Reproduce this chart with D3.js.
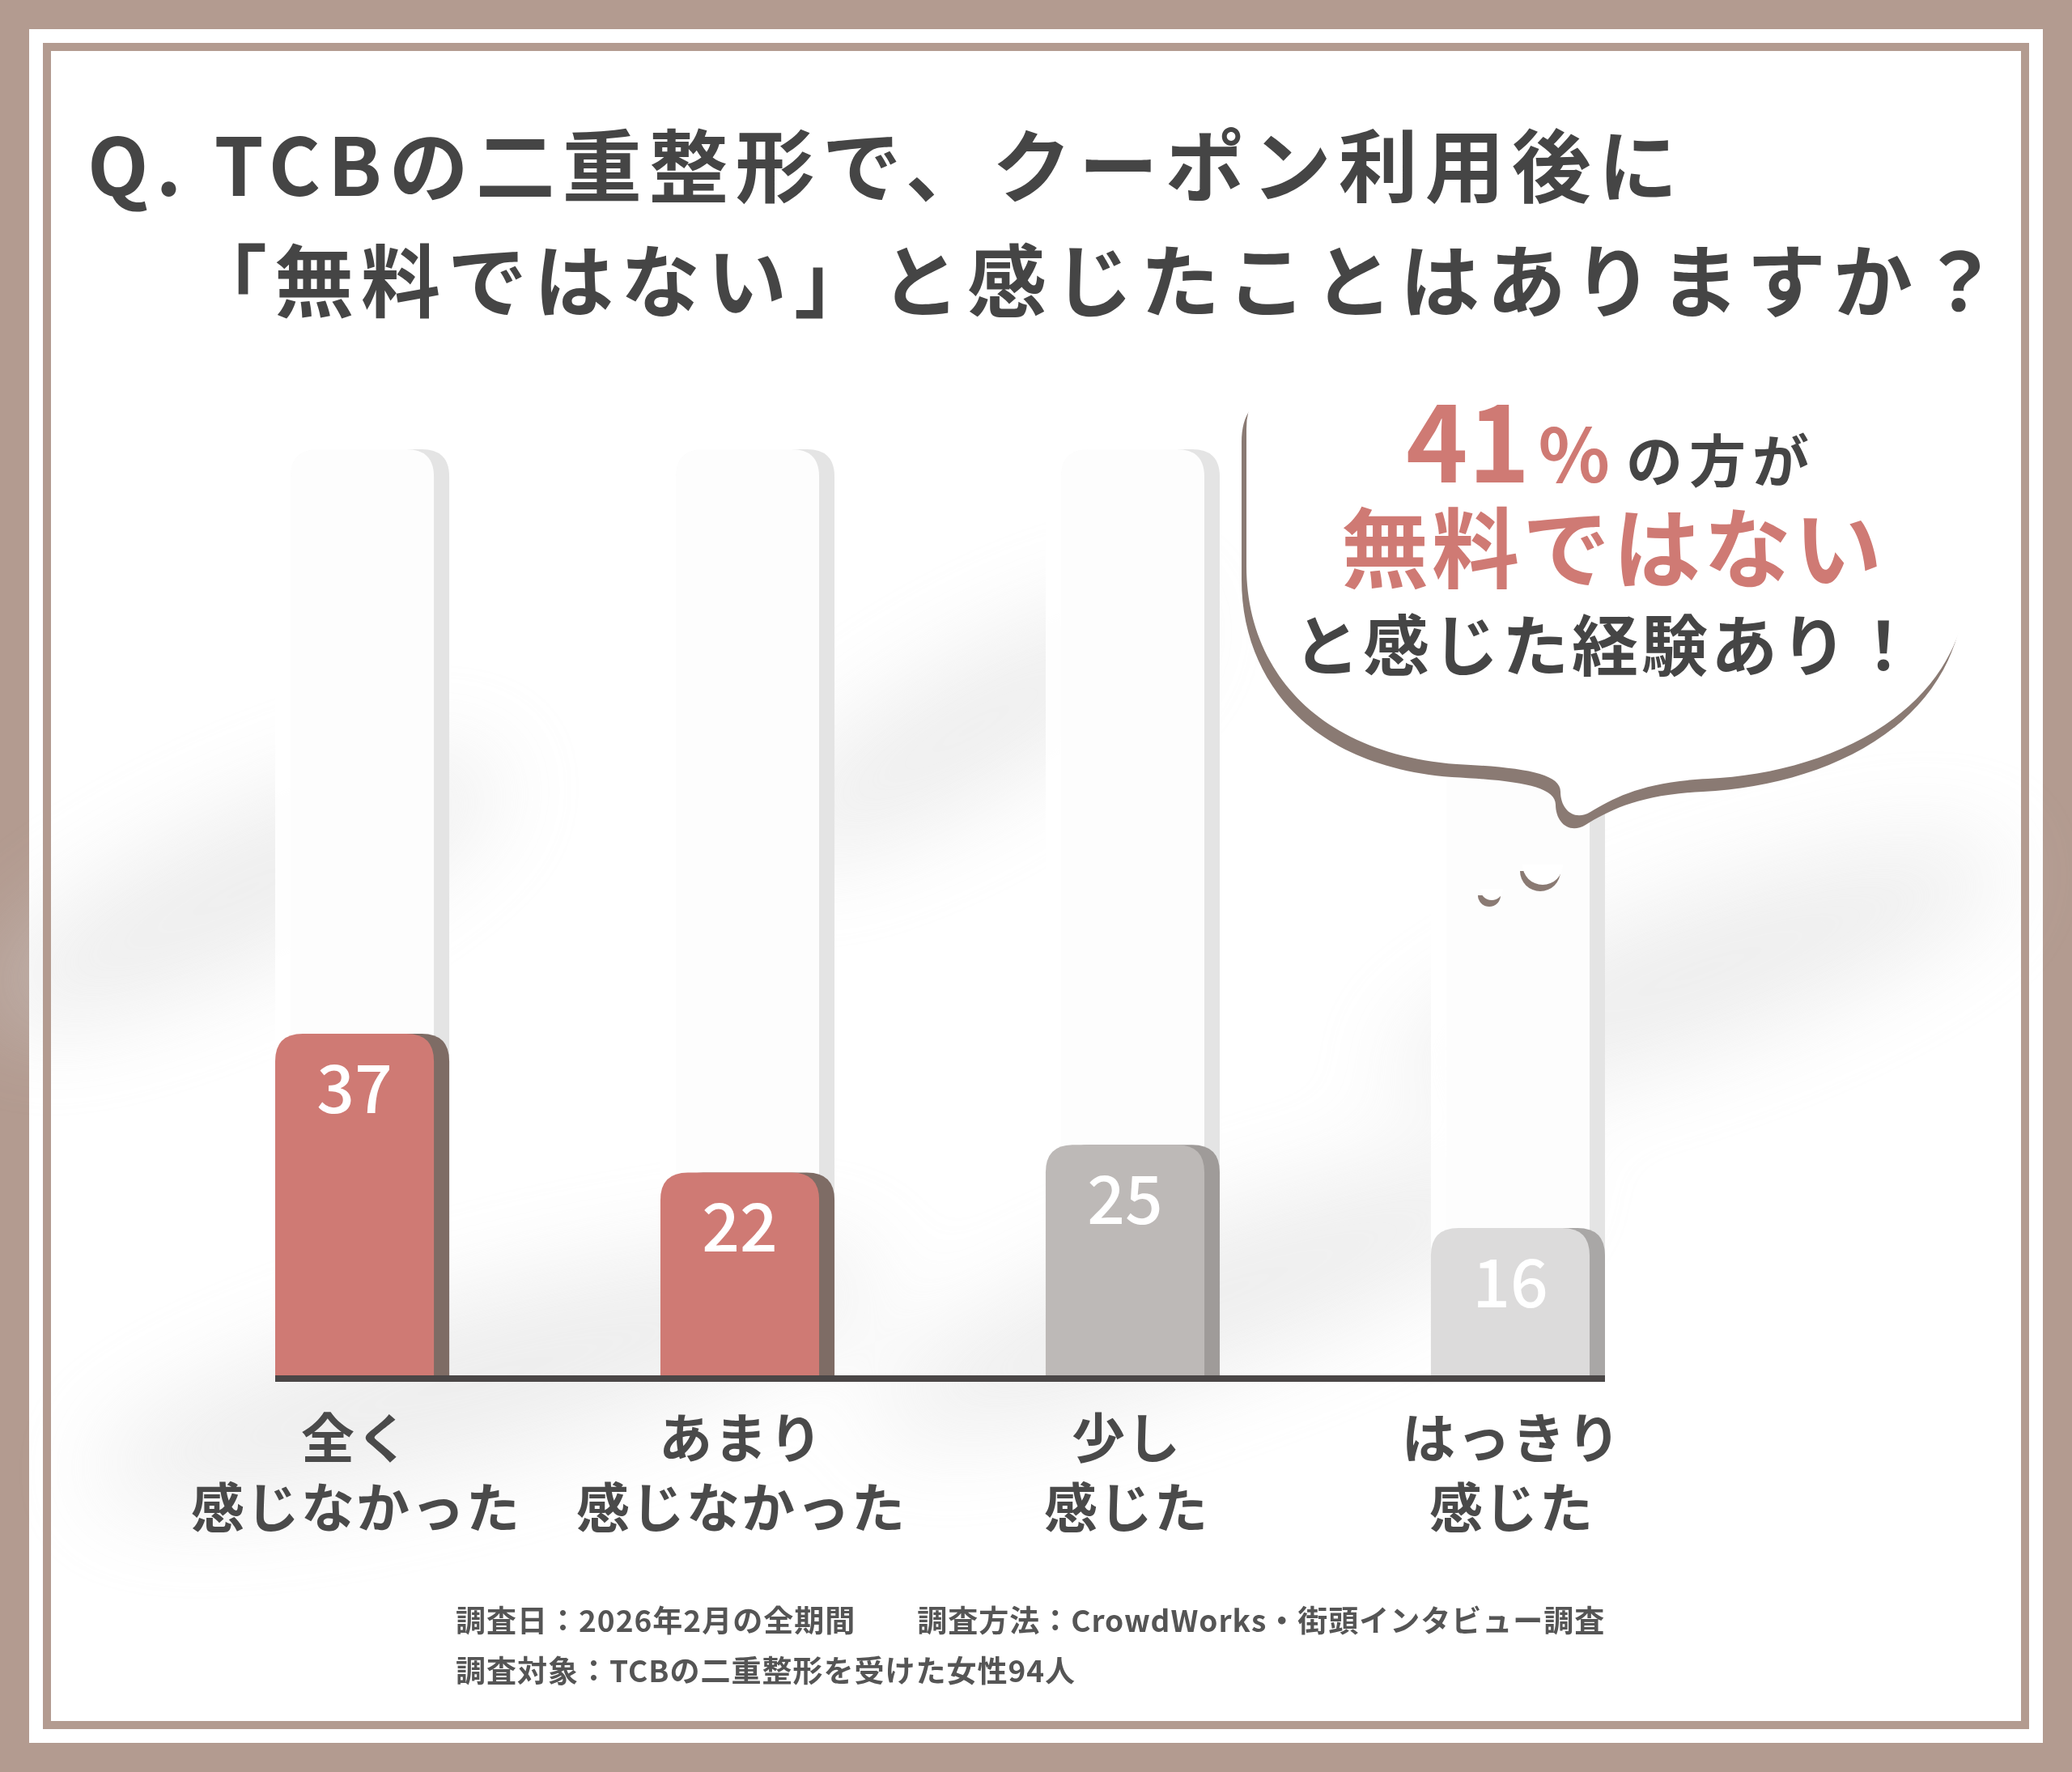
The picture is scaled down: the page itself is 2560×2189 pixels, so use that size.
<!DOCTYPE html>
<html>
<head>
<meta charset="utf-8">
<script src="https://cdn.jsdelivr.net/npm/d3@7"></script>
<style>
  body { margin: 0; background: #b39b90; }
  text { font-family: "Noto Sans CJK JP", sans-serif; }
</style>
</head>
<body>
<div id="chart"></div>
<script>
// data
var categories = [["全く", "感じなかった"], ["あまり", "感じなかった"], ["少し", "感じた"], ["はっきり", "感じた"]];
var values = [37, 22, 25, 16];
var barColors = ["#cf7a74", "#cf7a74", "#bdb9b7", "#dcdbdb"];
var shadeColors = ["#7e6c65", "#7e6c65", "#9f9b99", "#a9a7a6"];
var titleLines = ["Q. TCBの二重整形で、クーポン利用後に", "「無料ではない」と感じたことはありますか？"];
var notes = ["調査日：2026年2月の全期間　　調査方法：CrowdWorks・街頭インタビュー調査", "調査対象：TCBの二重整形を受けた女性94人"];

var W = 2560, H = 2189;
var svg = d3.select("#chart").append("svg").attr("width", W).attr("height", H);

var defs = svg.append("defs");
defs.append("filter").attr("id", "blur").append("feGaussianBlur").attr("stdDeviation", 60);

// frame
svg.append("rect").attr("width", W).attr("height", H).attr("fill", "#b39b90");
svg.append("rect").attr("x", 36).attr("y", 36).attr("width", W - 72).attr("height", H - 72).attr("fill", "#fff");
var bg = svg.append("g").attr("filter", "url(#blur)").attr("opacity", 0.45);
[[300, 1100, 350, 90, -25], [1200, 900, 300, 80, -30], [600, 1700, 500, 100, -15], [2100, 1200, 400, 90, -20], [1500, 1600, 450, 90, -20]].forEach(function(e) {
  bg.append("ellipse").attr("cx", e[0]).attr("cy", e[1]).attr("rx", e[2]).attr("ry", e[3])
    .attr("transform", "rotate(" + e[4] + "," + e[0] + "," + e[1] + ")").attr("fill", "#d8d8d8");
});
svg.append("rect").attr("x", 58).attr("y", 58).attr("width", W - 116).attr("height", H - 116)
  .attr("fill", "none").attr("stroke", "#b39b90").attr("stroke-width", 10);

// title
svg.append("text").attr("x", 108).attr("y", 242).attr("font-size", 98).attr("font-weight", 700)
  .attr("letter-spacing", 9).attr("fill", "#454545").text(titleLines[0]);
svg.append("text").attr("x", 232).attr("y", 384).attr("font-size", 98).attr("font-weight", 700)
  .attr("letter-spacing", 9).attr("fill", "#454545").text(titleLines[1]);

// scales
var x = d3.scaleBand().domain(d3.range(values.length)).range([340, 1964]).paddingInner(0.588).paddingOuter(0);
var y = d3.scaleLinear().domain([0, 37]).range([1700, 1277]);
var bw = x.bandwidth(), sh = 19, r = 34;

function topRounded(x0, y0, w, h, rad) {
  return "M" + x0 + "," + (y0 + h) + "V" + (y0 + rad) + "Q" + x0 + "," + y0 + " " + (x0 + rad) + "," + y0 +
    "H" + (x0 + w - rad) + "Q" + (x0 + w) + "," + y0 + " " + (x0 + w) + "," + (y0 + rad) + "V" + (y0 + h) + "Z";
}

var g = svg.append("g");
// background columns
g.selectAll(".colsh").data(values).enter().append("path")
  .attr("d", function(d, i) { return topRounded(x(i) + sh, 555, bw, 1145, r); })
  .attr("fill", "#e4e4e4");
g.selectAll(".col").data(values).enter().append("path")
  .attr("d", function(d, i) { return topRounded(x(i), 555, bw, 1145, r); })
  .attr("fill", "#fff").attr("opacity", 0.9);

// bars
g.selectAll(".barsh").data(values).enter().append("path")
  .attr("d", function(d, i) { return topRounded(x(i) + sh, y(d), bw, y(0) - y(d), r); })
  .attr("fill", function(d, i) { return shadeColors[i]; });
g.selectAll(".bar").data(values).enter().append("path")
  .attr("d", function(d, i) { return topRounded(x(i), y(d), bw, y(0) - y(d), r); })
  .attr("fill", function(d, i) { return barColors[i]; });
g.selectAll(".val").data(values).enter().append("text")
  .attr("x", function(d, i) { return x(i) + bw / 2; })
  .attr("y", function(d) { return y(d) + 98; })
  .attr("text-anchor", "middle").attr("font-size", 82).attr("font-weight", 500)
  .attr("fill", "#fff").text(function(d) { return d; });

// baseline
g.append("line").attr("x1", x(0)).attr("x2", x(3) + bw + sh).attr("y1", y(0) + 3).attr("y2", y(0) + 3)
  .attr("stroke", "#4a4646").attr("stroke-width", 8);

// category labels
categories.forEach(function(c, i) {
  c.forEach(function(line, j) {
    g.append("text").attr("x", x(i) + bw / 2 + 2).attr("y", 1801 + j * 86)
      .attr("text-anchor", "middle").attr("font-size", 66).attr("font-weight", 700)
      .attr("letter-spacing", 2).attr("fill", "#4a4a4a").text(line);
  });
});

// footnotes
notes.forEach(function(n, i) {
  svg.append("text").attr("x", 563).attr("y", 2016 + i * 62).attr("font-size", 37).attr("font-weight", 700)
    .attr("letter-spacing", 1).attr("fill", "#555").text(n);
});

// bubble
var bubble = "M1540,530 Q1540,470 1600,470 L2375,470 Q2434,470 2434,530 L2434,700 " +
  "C2434,880 2260,955 2110,962 C2030,966 1995,985 1965,1003 C1945,1015 1928,1000 1928,978 " +
  "C1928,955 1880,948 1800,944 C1620,930 1540,820 1540,700 Z";
svg.append("path").attr("d", bubble).attr("transform", "translate(-6,16)").attr("fill", "#8a7a73");
svg.append("path").attr("d", bubble).attr("fill", "#fff");
[[1840, 1098, 14], [1903, 1068, 25]].forEach(function(c) {
  var arc = d3.arc()({ innerRadius: 0, outerRadius: c[2], startAngle: Math.PI / 2, endAngle: Math.PI * 1.5 });
  svg.append("path").attr("d", arc).attr("transform", "translate(" + c[0] + "," + (c[1] + 8) + ")").attr("fill", "#8a7a73");
  svg.append("path").attr("d", arc).attr("transform", "translate(" + (c[0] + 3) + "," + c[1] + ")").attr("fill", "#fff");
});

var t1 = svg.append("text").attr("x", 1990).attr("y", 596).attr("text-anchor", "middle").attr("font-weight", 700);
t1.append("tspan").attr("font-size", 130).attr("fill", "#cf7a74").text("41");
t1.append("tspan").attr("font-size", 92).attr("fill", "#cf7a74").attr("dx", 10).text("%");
t1.append("tspan").attr("font-size", 70).attr("fill", "#454545").attr("dx", 20).attr("letter-spacing", 8).text("の方が");
svg.append("text").attr("x", 1993).attr("y", 718).attr("text-anchor", "middle").attr("font-size", 108)
  .attr("font-weight", 700).attr("letter-spacing", 4).attr("fill", "#cf7a74").text("無料ではない");
svg.append("text").attr("x", 1985).attr("y", 828).attr("text-anchor", "middle").attr("font-size", 82)
  .attr("font-weight", 700).attr("letter-spacing", 4).attr("fill", "#454545").text("と感じた経験あり！");
</script>
</body>
</html>
